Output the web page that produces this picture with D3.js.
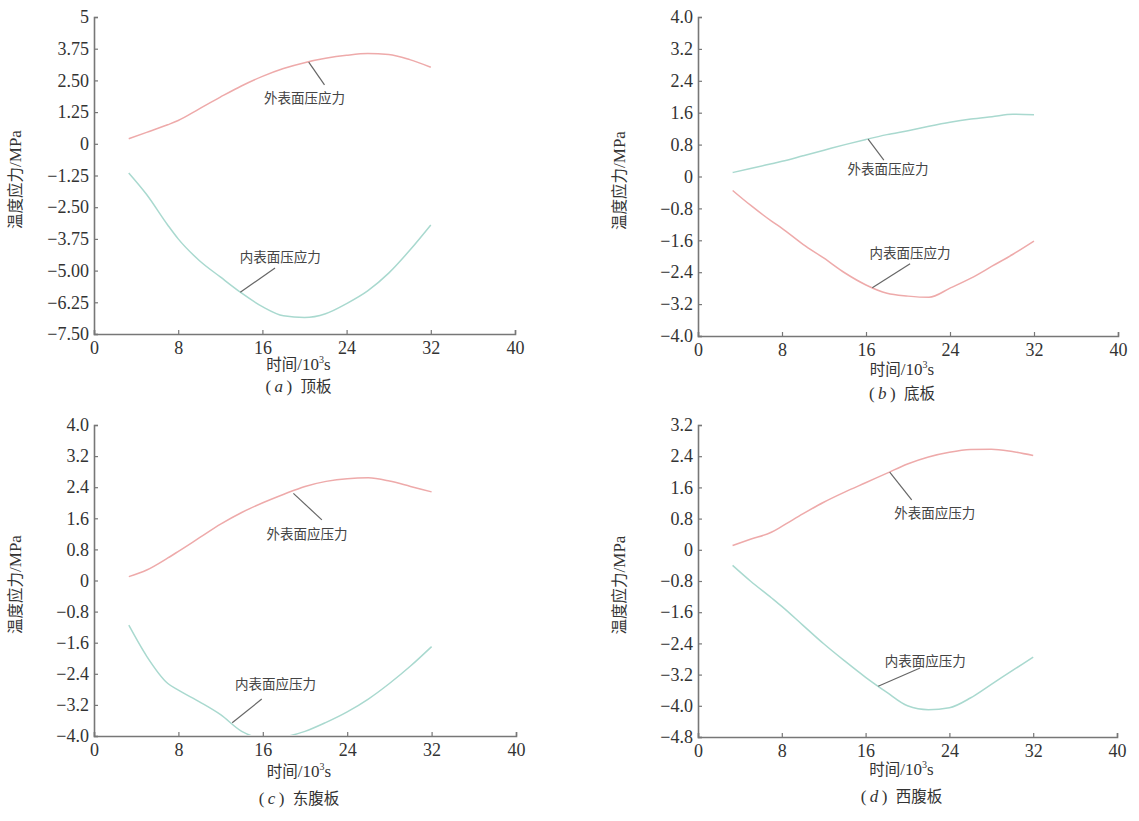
<!DOCTYPE html>
<html>
<head>
<meta charset="utf-8">
<script src="https://cdn.jsdelivr.net/npm/d3@7"></script>
<style>
  html, body { margin: 0; padding: 0; background: #fff; }
  svg { display: block; }
</style>
</head>
<body>
<svg id="chart" width="1139" height="821"></svg>
<script>
// Sampling times (10^3 s), shared by all series
const time = [3.3, 5, 7, 8, 10, 12, 14, 16, 18, 20, 22, 24, 26, 28, 30, 32];

// Temperature stress (MPa) at each time, per plate
const topOuter    = [0.2, 0.45, 0.75, 0.92, 1.38, 1.84, 2.28, 2.66, 2.97, 3.2, 3.37, 3.49, 3.56, 3.52, 3.32, 3.02];
const topInner    = [-1.15, -2.0, -3.2, -3.75, -4.6, -5.25, -5.88, -6.42, -6.78, -6.85, -6.7, -6.3, -5.8, -5.1, -4.2, -3.2];
const bottomOuter = [0.1, 0.2, 0.32, 0.38, 0.52, 0.66, 0.8, 0.93, 1.05, 1.15, 1.26, 1.36, 1.44, 1.5, 1.56, 1.55];
const bottomInner = [-0.35, -0.72, -1.12, -1.3, -1.7, -2.05, -2.42, -2.72, -2.93, -3.0, -3.03, -2.8, -2.55, -2.25, -1.95, -1.62];
const eastOuter   = [0.1, 0.27, 0.58, 0.75, 1.1, 1.45, 1.75, 2.0, 2.22, 2.42, 2.55, 2.62, 2.64, 2.56, 2.42, 2.28];
const eastInner   = [-1.15, -1.95, -2.65, -2.82, -3.12, -3.45, -3.88, -4.05, -4.02, -3.88, -3.65, -3.38, -3.05, -2.65, -2.2, -1.7];
const westOuter   = [0.11, 0.27, 0.45, 0.6, 0.92, 1.22, 1.48, 1.72, 1.96, 2.2, 2.38, 2.5, 2.57, 2.58, 2.52, 2.42];
const westInner   = [-0.4, -0.8, -1.23, -1.45, -1.93, -2.41, -2.85, -3.27, -3.65, -4.0, -4.1, -4.05, -3.8, -3.45, -3.1, -2.75];

// Axis ticks
const xTicks = [0, 8, 16, 24, 32, 40];
const yTicksTop  = [5, 3.75, 2.5, 1.25, 0, -1.25, -2.5, -3.75, -5, -6.25, -7.5];
const yLabelsTop = ["5", "3.75", "2.50", "1.25", "0", "\u22121.25", "\u22122.50", "\u22123.75", "\u22125.00", "\u22126.25", "\u22127.50"];
const yTicksB  = [4, 3.2, 2.4, 1.6, 0.8, 0, -0.8, -1.6, -2.4, -3.2, -4];
const yLabelsB = ["4.0", "3.2", "2.4", "1.6", "0.8", "0", "\u22120.8", "\u22121.6", "\u22122.4", "\u22123.2", "\u22124.0"];
const yTicksD  = [3.2, 2.4, 1.6, 0.8, 0, -0.8, -1.6, -2.4, -3.2, -4, -4.8];
const yLabelsD = ["3.2", "2.4", "1.6", "0.8", "0", "\u22120.8", "\u22121.6", "\u22122.4", "\u22123.2", "\u22124.0", "\u22124.8"];

// Panel captions and curve labels
const captionLetters = ["a", "b", "c", "d"];
const captionNames = ["\u9876\u677f", "\u5e95\u677f", "\u4e1c\u8179\u677f", "\u897f\u8179\u677f"];
const outerNames = ["\u5916\u8868\u9762\u538b\u5e94\u529b", "\u5916\u8868\u9762\u538b\u5e94\u529b", "\u5916\u8868\u9762\u5e94\u538b\u529b", "\u5916\u8868\u9762\u5e94\u538b\u529b"];
const innerNames = ["\u5185\u8868\u9762\u538b\u5e94\u529b", "\u5185\u8868\u9762\u538b\u5e94\u529b", "\u5185\u8868\u9762\u5e94\u538b\u529b", "\u5185\u8868\u9762\u5e94\u538b\u529b"];

// Label anchor [time, stress] and leader line [[t0,s0],[t1,s1]] in data units
const outerLabelAt  = [[20.0, 1.85], [18.1, 0.21], [20.2, 1.22], [22.6, 0.97]];
const outerLeader   = [[[20.4, 3.22], [21.9, 2.32]], [[16.2, 0.94], [17.7, 0.41]], [[18.9, 2.24], [21.6, 1.56]], [[18.3, 1.99], [20.4, 1.28]]];
const innerLabelAt  = [[17.7, -4.43], [20.2, -1.89], [17.2, -2.63], [21.7, -2.82]];
const innerLeader   = [[[13.9, -5.85], [17.2, -4.9]], [[16.6, -2.79], [20.2, -2.19]], [[13.1, -3.66], [15.9, -3.05]], [[17.2, -3.5], [21.2, -3.03]]];

const RED = "#eeaaaa";
const TEAL = "#a9d9cf";

const SERIF = "'Liberation Serif', 'Times New Roman', serif";
const CJK = "'Noto Sans CJK SC', sans-serif";
const MIXED = "'Liberation Serif', 'Noto Sans CJK SC', serif";

const panels = [
  { box: [94, 515, 17, 334],   y: [-7.5, 5],   yt: yTicksTop, yl: yLabelsTop, outer: topOuter,    inner: topInner,    oc: RED,  ic: TEAL, tx: 36, cap: 58 },
  { box: [698, 1118, 17, 336], y: [-4, 4],     yt: yTicksB,   yl: yLabelsB,   outer: bottomOuter, inner: bottomInner, oc: TEAL, ic: RED,  tx: 39, cap: 63 },
  { box: [94, 516, 425, 736],  y: [-4, 4],     yt: yTicksB,   yl: yLabelsB,   outer: eastOuter,   inner: eastInner,   oc: RED,  ic: TEAL, tx: 41, cap: 68 },
  { box: [698, 1117, 425, 737],y: [-4.8, 3.2], yt: yTicksD,   yl: yLabelsD,   outer: westOuter,   inner: westInner,   oc: RED,  ic: TEAL, tx: 38, cap: 65 }
];

const svg = d3.select("#chart");
const axisColor = "#777";

panels.forEach((p, i) => {
  const [x0, x1, y0, y1] = p.box;
  const x = d3.scaleLinear().domain([0, 40]).range([x0, x1]);
  const y = d3.scaleLinear().domain(p.y).range([y1, y0]);
  const g = svg.append("g");

  const clipId = "clip" + i;
  svg.append("clipPath").attr("id", clipId)
    .append("rect").attr("x", x0).attr("y", y0 - 2).attr("width", x1 - x0).attr("height", y1 - y0 + 1);

  // Curves
  const line = d3.line().x((d, k) => x(time[k])).y(d => y(d)).curve(d3.curveMonotoneX);
  g.append("path").datum(p.outer).attr("d", line)
    .attr("fill", "none").attr("stroke", p.oc).attr("stroke-width", 1.5)
    .attr("clip-path", `url(#${clipId})`);
  g.append("path").datum(p.inner).attr("d", line)
    .attr("fill", "none").attr("stroke", p.ic).attr("stroke-width", 1.5)
    .attr("clip-path", `url(#${clipId})`);

  // Axes
  const xAxis = d3.axisBottom(x).tickValues(xTicks).tickSize(-4).tickPadding(6).tickFormat(d3.format("d"));
  const yAxis = d3.axisLeft(y).tickValues(p.yt).tickSize(-4).tickPadding(5).tickFormat((d, k) => p.yl[k]);

  const gx = g.append("g").attr("transform", `translate(0,${y1})`).call(xAxis);
  const gy = g.append("g").attr("transform", `translate(${x0},0)`).call(yAxis);
  [gx, gy].forEach(a => {
    a.attr("font-size", null).attr("font-family", null);
    a.select(".domain").attr("stroke", axisColor).attr("stroke-width", 1.6);
    a.selectAll(".tick line").attr("stroke", axisColor).attr("stroke-width", 1.2);
    a.selectAll(".tick text")
      .style("font-family", SERIF)
      .style("font-size", "18px")
      .style("fill", "#333");
  });
  gx.selectAll(".tick text").attr("dy", "0.8em");

  // Axis titles
  const cx = (x0 + x1) / 2 - 6;
  const xt = g.append("text").attr("x", cx).attr("y", y1 + p.tx)
    .attr("text-anchor", "middle").style("font-size", "17px").style("font-family", MIXED).style("fill", "#333");
  xt.append("tspan").style("font-family", CJK).style("font-size", "15.5px").text("\u65f6\u95f4");
  xt.append("tspan").text("/10");
  xt.append("tspan").style("font-size", "10px").attr("dy", -7).text("3");
  xt.append("tspan").attr("dy", 7).text("s");

  const yt = g.append("text")
    .attr("transform", `translate(${x0 - 73},${(y0 + y1) / 2 + 4}) rotate(-90)`)
    .attr("text-anchor", "middle").style("font-size", "17px").style("font-family", MIXED).style("fill", "#333");
  yt.append("tspan").style("font-family", CJK).style("font-size", "15.5px").text("\u6e29\u5ea6\u5e94\u529b");
  yt.append("tspan").text("/MPa");

  const cap = g.append("text").attr("x", cx).attr("y", y1 + p.cap)
    .attr("text-anchor", "middle").style("font-size", "17px").style("font-family", MIXED).style("fill", "#333");
  cap.append("tspan").text("(\u2009");
  cap.append("tspan").style("font-style", "italic").text(captionLetters[i]);
  cap.append("tspan").text("\u2009)\u2002");
  cap.append("tspan").style("font-family", CJK).style("font-size", "15.5px").text(captionNames[i]);

  // Curve labels with leader lines
  const leader = (seg) => g.append("line")
    .attr("x1", x(seg[0][0])).attr("y1", y(seg[0][1]))
    .attr("x2", x(seg[1][0])).attr("y2", y(seg[1][1]))
    .attr("stroke", "#666").attr("stroke-width", 1.2);
  leader(outerLeader[i]);
  leader(innerLeader[i]);

  const curveLabel = (at, name) => g.append("text")
    .attr("x", x(at[0])).attr("y", y(at[1]))
    .attr("text-anchor", "middle").attr("dominant-baseline", "central")
    .style("font-family", CJK).style("font-size", "13.5px").style("fill", "#444")
    .text(name);
  curveLabel(outerLabelAt[i], outerNames[i]);
  curveLabel(innerLabelAt[i], innerNames[i]);
});
</script>
</body>
</html>
